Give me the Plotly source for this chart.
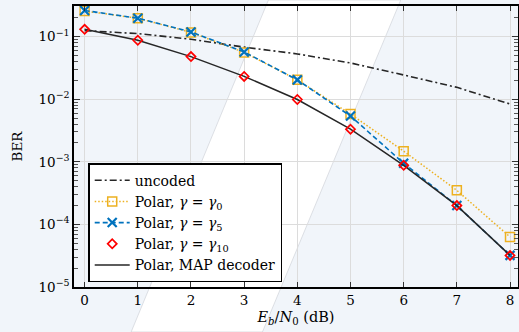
import plotly.graph_objects as go

snr = [0, 1, 2, 3, 4, 5, 6, 7, 8]
uncoded = [0.125, 0.112, 0.091, 0.068, 0.053, 0.038, 0.0244, 0.0155, 0.0084]
polar_g0 = [0.257, 0.197, 0.117, 0.056, 0.0204, 0.0058, 0.00148, 0.00035, 0.000063]
polar_g5 = [0.262, 0.197, 0.119, 0.057, 0.0204, 0.0054, 0.00095, 0.000200, 0.000032]
polar_g10 = [0.131, 0.0876, 0.048, 0.0232, 0.0099, 0.00332, 0.00088, 0.000200, 0.000032]
polar_map = [0.131, 0.0876, 0.048, 0.0232, 0.0099, 0.00332, 0.00088, 0.000200, 0.000032]

names = [
    "uncoded",
    "Polar, <i>γ</i> = <i>γ</i><sub>0</sub>",
    "Polar, <i>γ</i> = <i>γ</i><sub>5</sub>",
    "Polar, <i>γ</i> = <i>γ</i><sub>10</sub>",
    "Polar, MAP decoder",
]

ytickvals = [1e-5, 1e-4, 1e-3, 1e-2, 1e-1]
yticktext = ["10<sup>−5</sup>", "10<sup>−4</sup>", "10<sup>−3</sup>", "10<sup>−2</sup>", "10<sup>−1</sup>"]
minor_vals = [m * 10 ** e for e in range(-5, 0) for m in range(2, 10)]

FONT = "DejaVu Serif"

fig = go.Figure()
fig.add_trace(go.Scatter(x=snr, y=uncoded, name=names[0], mode="lines",
                         line=dict(color="#262626", width=1.6, dash="7px,3px,2px,3px"),
                         legendrank=1))
fig.add_trace(go.Scatter(x=snr, y=polar_g0, name=names[1], mode="lines+markers",
                         line=dict(color="#EDB120", width=1.5, dash="1.5px,2px"),
                         marker=dict(symbol="square-open", size=9, color="#EDB120",
                                     line=dict(width=1.5, color="#EDB120")),
                         legendrank=2))
fig.add_trace(go.Scatter(x=snr, y=polar_g5, name=names[2], mode="lines+markers",
                         line=dict(color="#0072BD", width=1.6, dash="5px,3px"),
                         marker=dict(symbol="x-thin-open", size=9, color="#0072BD",
                                     line=dict(width=2.2, color="#0072BD")),
                         legendrank=3))
fig.add_trace(go.Scatter(x=snr, y=polar_map, name=names[4], mode="lines",
                         line=dict(color="#262626", width=1.5),
                         legendrank=5))
fig.add_trace(go.Scatter(x=snr, y=polar_g10, name=names[3], mode="markers",
                         marker=dict(symbol="diamond-open", size=7, color="#FF0000",
                                     line=dict(width=1.7, color="#FF0000")),
                         legendrank=4))

# background: light paper with a white diagonal band (paper coordinates)
band = "M 0.1287 -0.1601 L 0.4379 1.0214 L 0.7359 1.0214 L 0.4244 -0.1601 Z"
fig.add_shape(type="path", path=band, xref="paper", yref="paper", layer="below",
              fillcolor="white", line=dict(color="#c9ccd4", width=0.6))

axis_common = dict(
    showline=True, linecolor="black", linewidth=1.5, mirror="ticks",
    ticks="inside", tickcolor="#333333", tickwidth=1,
    showgrid=True, gridcolor="#dcdcdc", gridwidth=1, zeroline=False,
    tickfont=dict(family=FONT, size=13.5, color="black"),
    automargin=False,
)

fig.update_xaxes(range=[-0.2, 8.15], tickvals=snr, ticklen=5,
                 title=dict(text="<i>E</i><sub><i>b</i></sub>/<i>N</i><sub>0</sub> (dB)",
                            font=dict(family=FONT, size=14.5, color="black"), standoff=5),
                 **axis_common)
fig.update_yaxes(type="log", range=[-5, -0.51], tickvals=ytickvals, ticktext=yticktext, ticklen=6,
                 minor=dict(tickvals=minor_vals, ticks="inside", ticklen=4, tickcolor="#555555",
                            showgrid=False),
                 title=dict(text="BER", font=dict(family=FONT, size=13.5, color="black"), standoff=13),
                 **axis_common)

fig.update_layout(
    width=519, height=332,
    margin=dict(l=74, r=1, t=6, b=45, autoexpand=False),
    paper_bgcolor="#f1f5fa",
    plot_bgcolor="rgba(0,0,0,0)",
    font=dict(family=FONT, color="black"),
    showlegend=True,
    legend=dict(x=0.032, y=0.441, xanchor="left", yanchor="top",
                bgcolor="white", bordercolor="black", borderwidth=1.5,
                font=dict(family=FONT, size=14, color="black"),
                itemwidth=35, tracegroupgap=0),
)

fig.write_html("out.html", config={"displayModeBar": False},
               post_script="document.body.style.margin='0px';document.body.style.overflow='hidden';document.body.style.background='#f1f5fa';")
